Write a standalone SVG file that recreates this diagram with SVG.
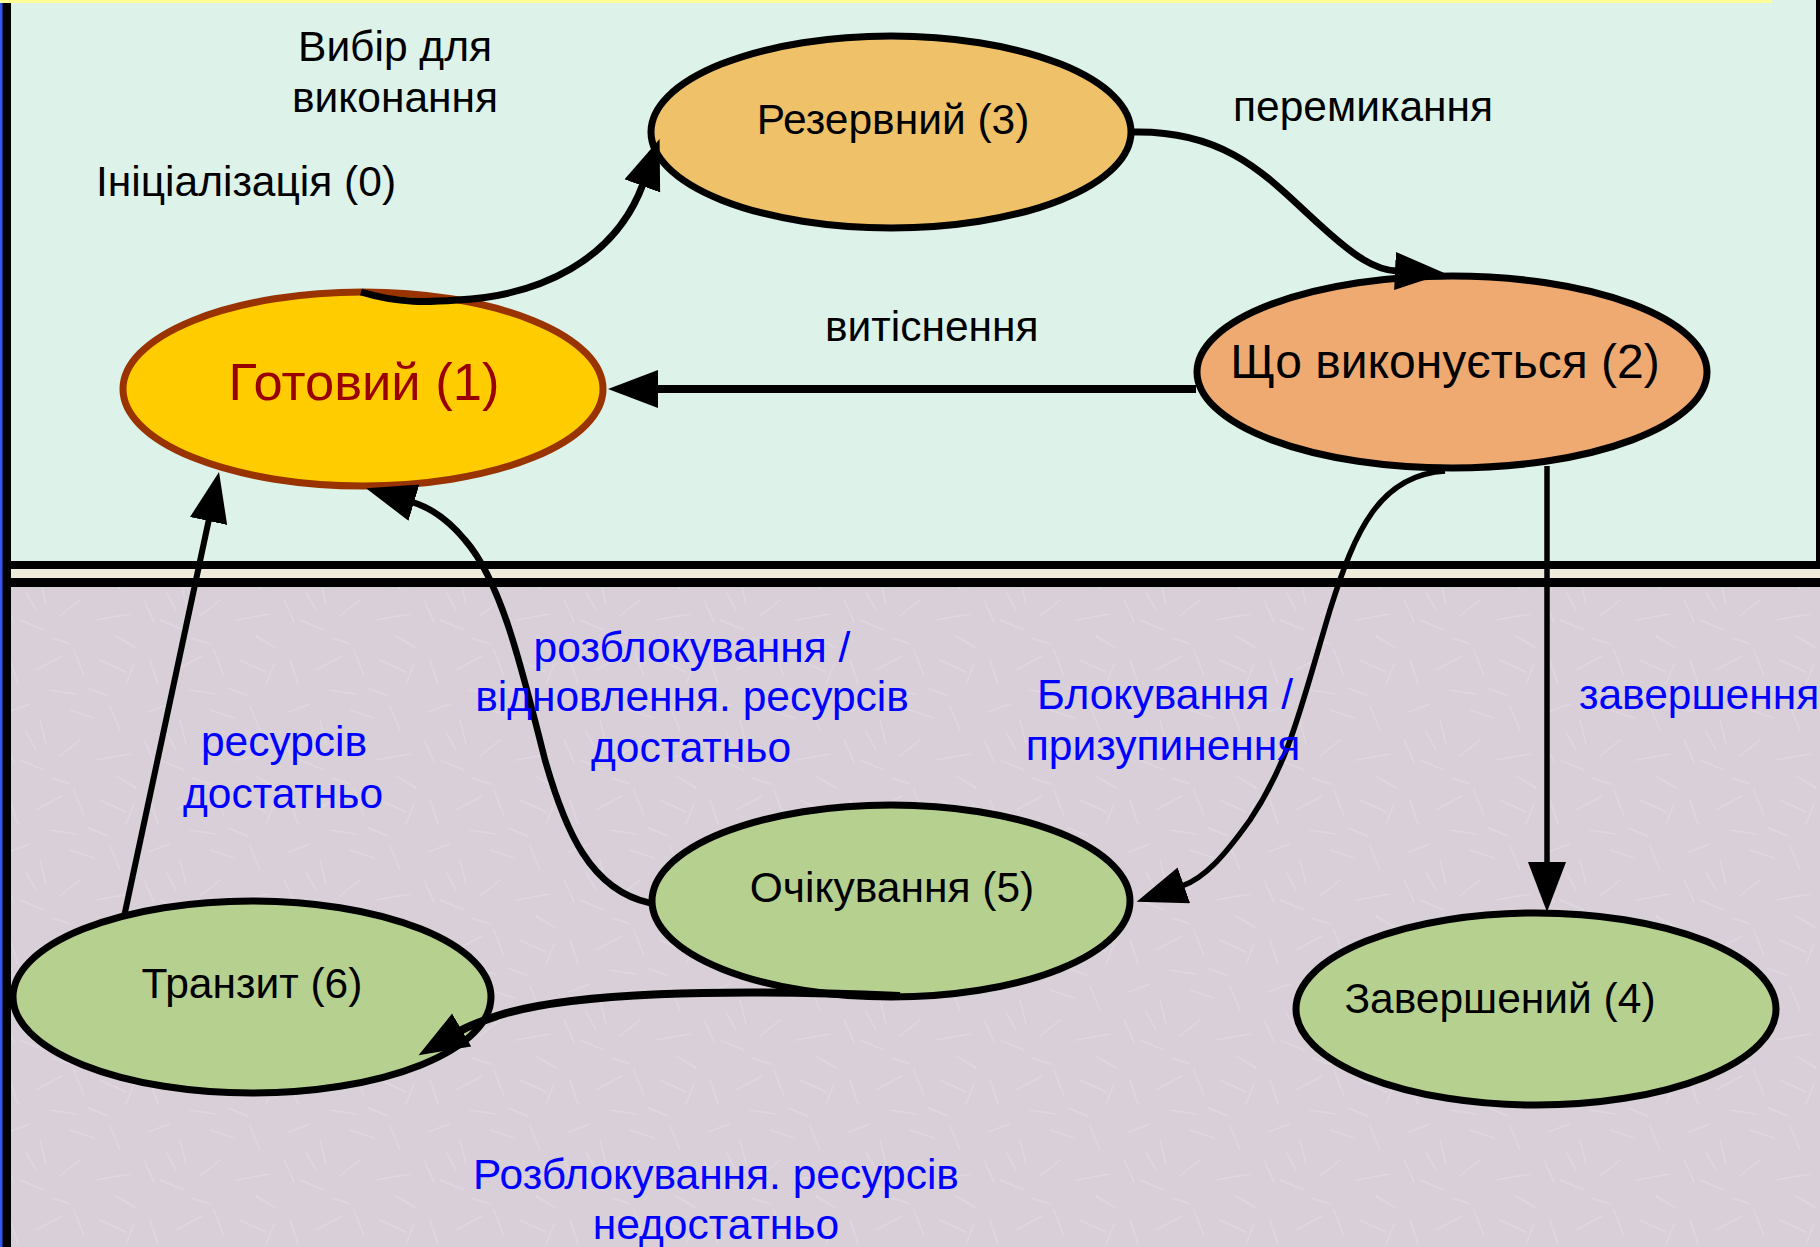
<svg xmlns="http://www.w3.org/2000/svg" width="1820" height="1247" viewBox="0 0 1820 1247">
<style>
.lbl{font-family:"Liberation Sans",Arial,sans-serif;font-size:42.5px;fill:#000}
.blue{fill:#0000FF}
.ntx{font-family:"Liberation Sans",Arial,sans-serif;font-size:42.5px;fill:#000;text-anchor:middle}
.mid{text-anchor:middle}
.node{stroke:#000;stroke-width:7}
.edge{fill:none;stroke:#000}
</style>
<defs>
<pattern id="tex" width="140" height="140" patternUnits="userSpaceOnUse">
<rect width="140" height="140" fill="#D8CFD9"/>
<g stroke="#E4DCE5" stroke-width="1.5" stroke-linecap="round" opacity="0.6">
<line x1="8" y1="12" x2="30" y2="4"/><line x1="40" y1="20" x2="46" y2="44"/><line x1="70" y1="10" x2="94" y2="18"/>
<line x1="110" y1="6" x2="120" y2="30"/><line x1="20" y1="60" x2="44" y2="70"/><line x1="60" y1="56" x2="80" y2="40"/>
<line x1="96" y1="60" x2="130" y2="54"/><line x1="10" y1="100" x2="18" y2="124"/><line x1="36" y1="110" x2="62" y2="96"/>
<line x1="74" y1="90" x2="84" y2="116"/><line x1="100" y1="100" x2="126" y2="112"/><line x1="50" y1="130" x2="76" y2="134"/>
<line x1="116" y1="76" x2="136" y2="88"/><line x1="4" y1="40" x2="14" y2="62"/><line x1="88" y1="128" x2="108" y2="136"/>
<line x1="26" y1="32" x2="36" y2="50"/><line x1="52" y1="78" x2="70" y2="84"/><line x1="126" y1="124" x2="134" y2="104"/>
</g>
</pattern>
<marker id="ah" markerUnits="userSpaceOnUse" markerWidth="52" markerHeight="40" refX="2" refY="19" orient="auto">
<path d="M0,0 L50,19 L0,38 z" fill="#000"/>
</marker>
</defs>
<rect x="0" y="0" width="1820" height="1247" fill="url(#tex)"/>
<rect x="6" y="0" width="1812" height="563" fill="#DDF2E9"/>
<rect x="0" y="569" width="1820" height="9" fill="#EEEBDB"/>
<rect x="0" y="561" width="1820" height="8" fill="#000"/>
<rect x="0" y="578" width="1820" height="9" fill="#000"/>
<rect x="2" y="0" width="9" height="1247" fill="#000"/>
<rect x="1816" y="0" width="4" height="569" fill="#000"/>
<rect x="0" y="0" width="2.5" height="1247" fill="#3355EE"/>
<rect x="0" y="0" width="1772" height="3" fill="#FFFF99"/>

<g id="node-ready">
<ellipse cx="363" cy="389" rx="240" ry="97" fill="#FFCC00" stroke="#993300" stroke-width="7"/>
<text class="ntx" x="364" y="400" style="font-size:52.5px;fill:#990000">Готовий (1)</text>
</g>
<g id="node-reserve">
<ellipse class="node" cx="891" cy="132" rx="240" ry="96" fill="#EFC26A"/>
<text class="ntx" x="893" y="134">Резервний (3)</text>
</g>
<g id="node-running">
<ellipse class="node" cx="1452" cy="372" rx="255" ry="96" fill="#EFAA72"/>
<text class="ntx" x="1445" y="378" style="font-size:48px">Що виконується (2)</text>
</g>
<g id="node-waiting">
<ellipse class="node" cx="891" cy="901" rx="239" ry="96" fill="#B6D18F"/>
<text class="ntx" x="892" y="902">Очікування (5)</text>
</g>
<g id="node-transit">
<ellipse class="node" cx="252" cy="997" rx="239" ry="96" fill="#B6D18F"/>
<text class="ntx" x="252" y="998">Транзит (6)</text>
</g>
<g id="node-done">
<ellipse class="node" cx="1536" cy="1009" rx="240" ry="96" fill="#B6D18F"/>
<text class="ntx" x="1500" y="1013">Завершений (4)</text>
</g>

<g id="connectors">
<path class="edge" stroke-width="7" marker-end="url(#ah)" d="M361,292 C400,304 430,302 457,300 C540,296 615,260 643,184"/>
<path class="edge" stroke-width="7" marker-end="url(#ah)" d="M1133,132 C1230,130 1270,180 1320,225 C1355,257 1375,270 1397,271"/>
<path class="edge" stroke-width="8" marker-end="url(#ah)" d="M1196,389 L656,389"/>
<path class="edge" stroke-width="5.5" marker-end="url(#ah)" d="M1445,471 C1380,475 1355,530 1330,610 C1300,710 1290,760 1250,820 C1225,855 1205,878 1182,886"/>
<path class="edge" stroke-width="5.5" marker-end="url(#ah)" d="M1547,466 L1547,864"/>
<path class="edge" stroke-width="6.5" marker-end="url(#ah)" d="M650,903 C590,890 565,830 545,760 C520,660 500,580 465,540 C450,522 432,508 412,502"/>
<path class="edge" stroke-width="6" marker-end="url(#ah)" d="M124,917 L209,519"/>
<path class="edge" stroke-width="8" marker-end="url(#ah)" d="M900,996 C720,988 570,993 500,1015 C485,1020 472,1024 460,1031"/>
</g>

<g id="labels">
<text class="lbl mid" x="395" y="61">Вибір для</text>
<text class="lbl mid" x="395" y="112">виконання</text>
<text class="lbl" x="96" y="196">Ініціалізація (0)</text>
<text class="lbl" x="1233" y="121">перемикання</text>
<text class="lbl" x="825" y="341">витіснення</text>
<text class="lbl blue mid" x="692" y="662">розблокування /</text>
<text class="lbl blue mid" x="692" y="711">відновлення. ресурсів</text>
<text class="lbl blue mid" x="691" y="762">достатньо</text>
<text class="lbl blue mid" x="284" y="756">ресурсів</text>
<text class="lbl blue mid" x="283" y="808">достатньо</text>
<text class="lbl blue mid" x="1165" y="709">Блокування /</text>
<text class="lbl blue mid" x="1163" y="760">призупинення</text>
<text class="lbl blue" x="1579" y="709">завершення</text>
<text class="lbl blue mid" x="716" y="1189">Розблокування. ресурсів</text>
<text class="lbl blue mid" x="716" y="1239">недостатньо</text>
</g>
</svg>
